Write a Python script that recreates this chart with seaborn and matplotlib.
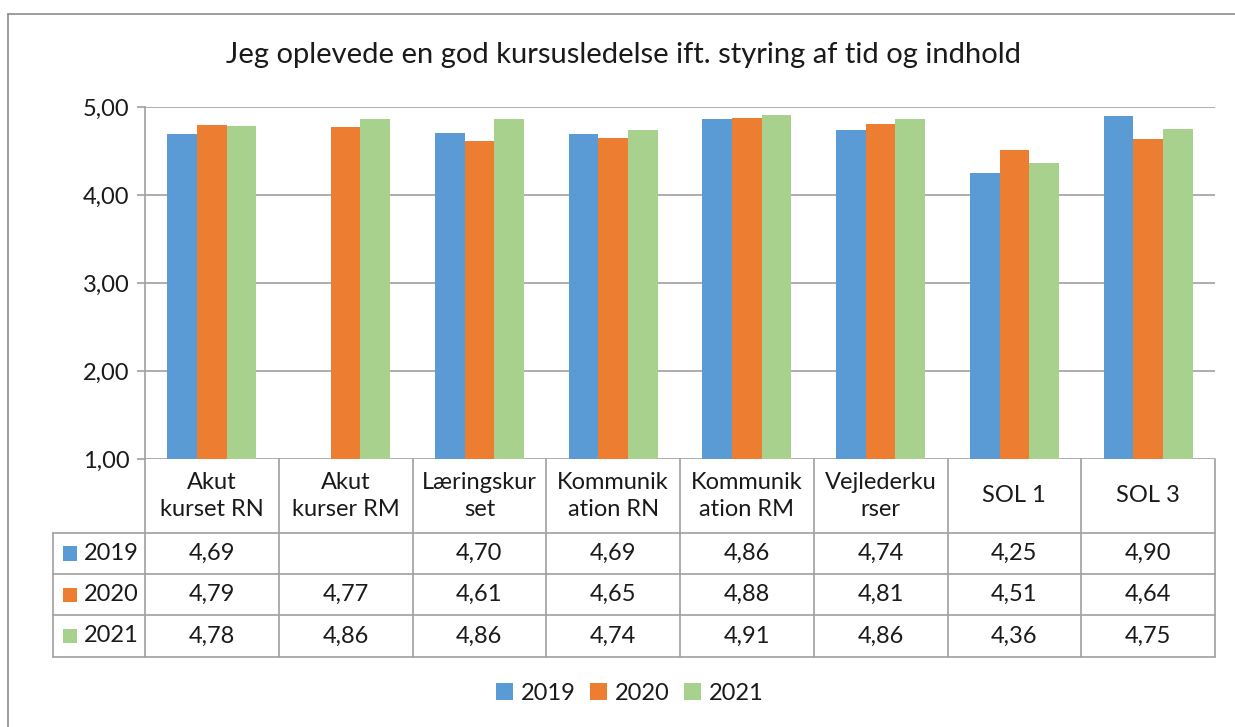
import matplotlib
matplotlib.use("Agg")
import matplotlib.pyplot as plt
import matplotlib.transforms as mtransforms
from matplotlib.lines import Line2D
from matplotlib.patches import Rectangle, Patch
import seaborn as sns
import pandas as pd
import numpy as np

# data
kurser = ["Akut\nkurset RN", "Akut\nkurser RM", "Læringskur\nset", "Kommunik\nation RN",
          "Kommunik\nation RM", "Vejlederku\nrser", "SOL 1", "SOL 3"]
aar = ["2019", "2020", "2021"]
v2019 = [4.69, np.nan, 4.70, 4.69, 4.86, 4.74, 4.25, 4.90]
v2020 = [4.79, 4.77, 4.61, 4.65, 4.88, 4.81, 4.51, 4.64]
v2021 = [4.78, 4.86, 4.86, 4.74, 4.91, 4.86, 4.36, 4.75]
farver = ["#5B9BD5", "#ED7D31", "#A9D18E"]
titel = "Jeg oplevede en god kursusledelse ift. styring af tid og indhold"

W, H = 1235, 727
GRID = "#a0a0a0"
TXT = "#1a1a1a"
FS = 17


def fx(px):
    return px / W


def fy(py):
    return 1 - py / H


def main():
    sns.set_style("white")
    plt.rcParams["font.family"] = ["Lato", "DejaVu Sans"]

    rows = []
    for yr, vals in zip(aar, [v2019, v2020, v2021]):
        for k, v in zip(kurser, vals):
            rows.append({"kursus": k, "aar": yr, "score": v})
    df = pd.DataFrame(rows)

    fig = plt.figure(figsize=(W / 100, H / 100), dpi=100)
    ax = fig.add_axes([fx(145), fy(459), fx(1215) - fx(145), fy(107) - fy(459)])

    sns.barplot(data=df, x="kursus", y="score", hue="aar", order=kurser, hue_order=aar,
                palette=farver, saturation=1, width=0.665, legend=False, ax=ax, zorder=3,
                linewidth=0, edgecolor="none")
    ax.set_xlim(-0.5, len(kurser) - 0.5)
    ax.set_ylim(1, 5)
    ax.set_yticks([1, 2, 3, 4, 5])
    ax.set_yticklabels([f"{t:.2f}".replace(".", ",") for t in [1, 2, 3, 4, 5]],
                       fontsize=FS, color=TXT)
    ax.set_xticks([])
    ax.set_xlabel("")
    ax.set_ylabel("")
    ax.yaxis.grid(True, color=GRID, linewidth=1.2, zorder=0)
    ax.tick_params(axis="y", length=6, width=1.2, color=GRID, pad=5, left=True)
    for s in ["top", "right", "bottom"]:
        ax.spines[s].set_visible(False)
    ax.spines["left"].set_color(GRID)
    ax.spines["left"].set_linewidth(1.2)

    # data table under the plot
    tr = mtransforms.blended_transform_factory(ax.transData, fig.transFigure)
    row_edges = [459, 533, 574, 615, 657]
    n = len(kurser)
    lkw = dict(color=GRID, linewidth=1.2, clip_on=False)
    for y in row_edges[1:]:
        fig.add_artist(Line2D([fx(53), fx(1215)], [fy(y), fy(y)], **lkw))
    fig.add_artist(Line2D([fx(53), fx(53)], [fy(533), fy(657)], **lkw))
    for i in range(n + 1):
        ax.add_line(Line2D([i - 0.5, i - 0.5], [fy(459), fy(657)], transform=tr, **lkw))

    for i, k in enumerate(kurser):
        ax.text(i, fy(496), k, transform=tr, ha="center", va="center", fontsize=FS,
                color=TXT, linespacing=1.3, clip_on=False)
    for r, (yr, vals) in enumerate(zip(aar, [v2019, v2020, v2021])):
        yc = (row_edges[r + 1] + row_edges[r + 2]) / 2
        fig.add_artist(Rectangle((fx(63), fy(yc + 7)), fx(14), fy(yc - 7) - fy(yc + 7),
                                 facecolor=farver[r], edgecolor="none"))
        fig.text(fx(84), fy(yc), yr, ha="left", va="center", fontsize=FS, color=TXT)
        for i, v in enumerate(vals):
            if not np.isnan(v):
                ax.text(i, fy(yc), f"{v:.2f}".replace(".", ","), transform=tr,
                        ha="center", va="center", fontsize=FS, color=TXT, clip_on=False)

    fig.suptitle(titel, x=0.505, y=fy(55), va="center", fontsize=21, color=TXT)

    handles = [Patch(facecolor=c, edgecolor="none", label=a) for c, a in zip(farver, aar)]
    fig.legend(handles=handles, loc="center", bbox_to_anchor=(fx(630), fy(693)), ncol=3,
               frameon=False, fontsize=FS, handlelength=0.7, handleheight=0.7,
               handletextpad=0.35, columnspacing=0.6, labelcolor=TXT)

    # outer chart frame
    fig.add_artist(Line2D([fx(8), 1], [fy(14), fy(14)], color="#8c8c8c", linewidth=1.2))
    fig.add_artist(Line2D([fx(8), fx(8)], [fy(14), 0], color="#8c8c8c", linewidth=1.2))

    fig.savefig("out.png", dpi=100, facecolor="white")


if __name__ == "__main__":
    main()
